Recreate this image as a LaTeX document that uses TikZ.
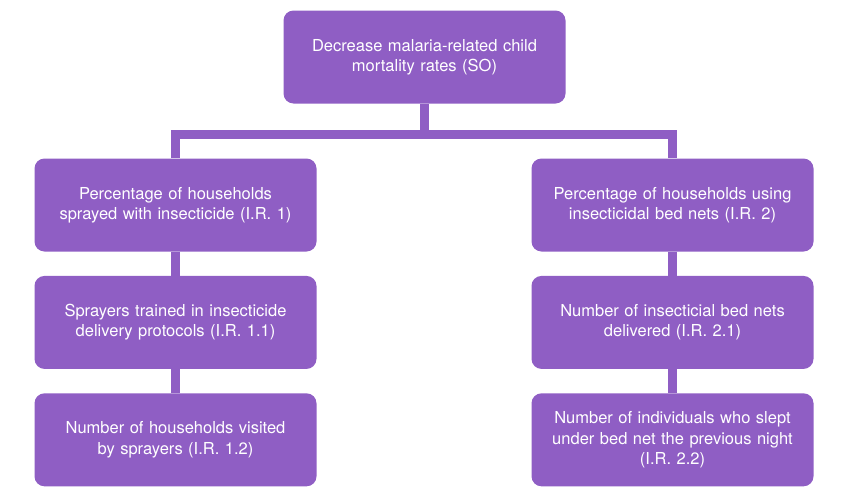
\documentclass[tikz,border=0pt]{standalone}
\usepackage{fontspec}
\setmainfont{TeX Gyre Heros}
\usepackage{xcolor}
\usetikzlibrary{positioning}
\definecolor{boxpurple}{RGB}{143,94,196}

\begin{document}
\begin{tikzpicture}[x=1pt, y=1pt, node distance=24pt,
  goal/.style={fill=boxpurple, text=white, rounded corners=10pt, minimum width=282pt, minimum height=93pt, text width=266pt, align=center, font=\fontsize{16.5}{20.3}\selectfont},
  link/.style={boxpurple, line width=9.5pt}]
\useasboundingbox (0,0) rectangle (848,-498);

\node (so) [goal] at (424.5,-57) {Decrease malaria-related child\\mortality rates (SO)};

\node (ir1) [goal] at (175.5,-205) {Percentage of households\\sprayed with insecticide (I.R. 1)};
\node (ir11) [goal, below=of ir1] {Sprayers trained in insecticide\\delivery protocols (I.R. 1.1)};
\node (ir12) [goal, below=of ir11] {Number of households visited\\by sprayers (I.R. 1.2)};

\node (ir2) [goal] at (672.5,-205) {Percentage of households using\\insecticidal bed nets (I.R. 2)};
\node (ir21) [goal, below=of ir2] {Number of insecticial bed nets\\delivered (I.R. 2.1)};
\node (ir22) [goal, below=of ir21] {Number of individuals who slept\\under bed net the previous night\\(I.R. 2.2)};

\draw [link] (so.south) -- ++(0,-31) coordinate (split);
\draw [link] (ir1.north) |- (split) -| (ir2.north);
\draw [link] (ir1.south) -- (ir11.north);
\draw [link] (ir11.south) -- (ir12.north);
\draw [link] (ir2.south) -- (ir21.north);
\draw [link] (ir21.south) -- (ir22.north);

\end{tikzpicture}
\end{document}
